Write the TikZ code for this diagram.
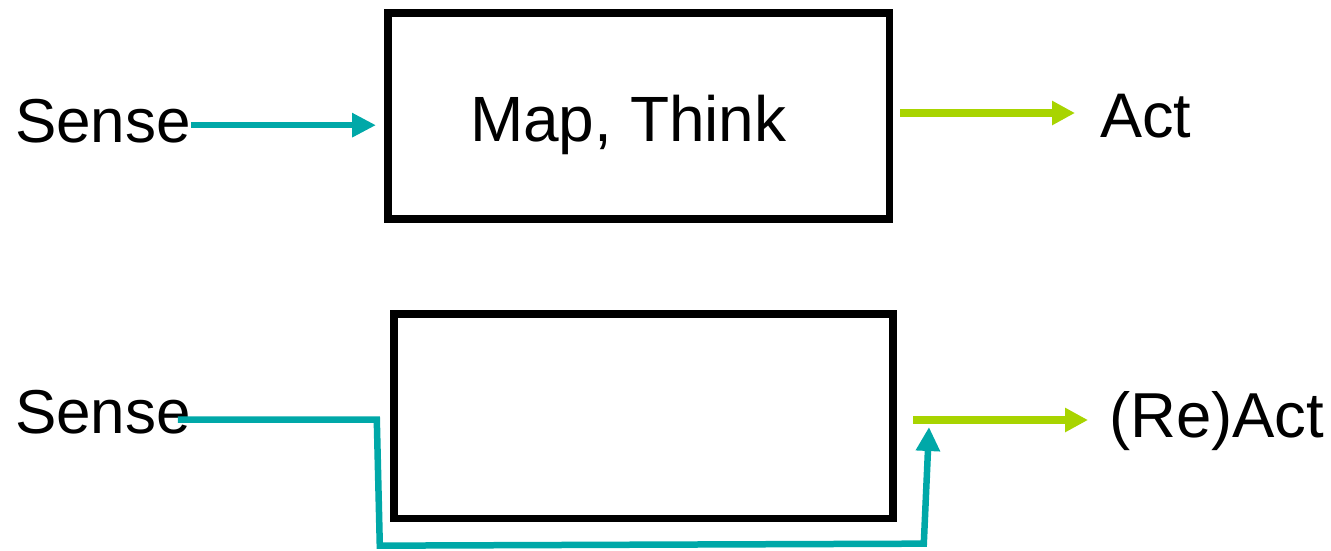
\documentclass[tikz,border=0pt]{standalone}
\usepackage{fontspec}
\setmainfont{Liberation Sans}
\usetikzlibrary{arrows.meta}
\definecolor{tealc}{RGB}{0,168,168}
\definecolor{limec}{RGB}{168,212,0}
\begin{document}
\begin{tikzpicture}[x=1pt,y=-1pt,
 lbl/.style={font=\fontsize{62}{70}\selectfont, inner sep=0pt, outer sep=0pt, anchor=base west},
 boxs/.style={draw, line width=7.5pt, inner sep=0pt, outer sep=0pt},
 tarrow/.style={draw=tealc, line width=6.5pt, -{Triangle[length=24pt,width=23pt]}},
 garrow/.style={draw=limec, line width=8pt, -{Triangle[length=23pt,width=23pt]}}]
\path[use as bounding box] (0,0) rectangle (1331,550);
\node[boxs, minimum width=501.5pt, minimum height=206pt] (box1) at (638.75,116) {};
\node[boxs, minimum width=499pt, minimum height=204.5pt] (box2) at (643.5,416) {};
\node[lbl] (sense1) at (15,142) {Sense};
\node[lbl, font=\fontsize{64}{70}\selectfont] (think) at (470,141) {Map, Think};
\node[lbl, font=\fontsize{63}{70}\selectfont] (act1) at (1100,137) {Act};
\node[lbl] (sense2) at (15,433) {Sense};
\node[lbl, font=\fontsize{63.5}{70}\selectfont] (act2) at (1109,437) {(Re)Act};
\coordinate (fb) at (929,427);
\draw[tarrow, shorten >=12pt] ([yshift=-4.5pt]sense1.east) -- ([yshift=-4.5pt]sense1.east -| box1.west);
\draw[garrow, shorten <=10.5pt, shorten >=25pt] ([yshift=3pt]box1.east) -- ([yshift=3pt]box1.east -| act1.west);
\draw[garrow, shorten <=20pt, shorten >=21pt] ([yshift=-4pt]box2.east) -- ([yshift=-4pt]box2.east -| act2.west);
\draw[tarrow] ([xshift=-13pt,yshift=-8pt]sense2.east) -- ++(199,0) -- ++(3,126) -- ++(544,-2) -- (fb);
\end{tikzpicture}
\end{document}
